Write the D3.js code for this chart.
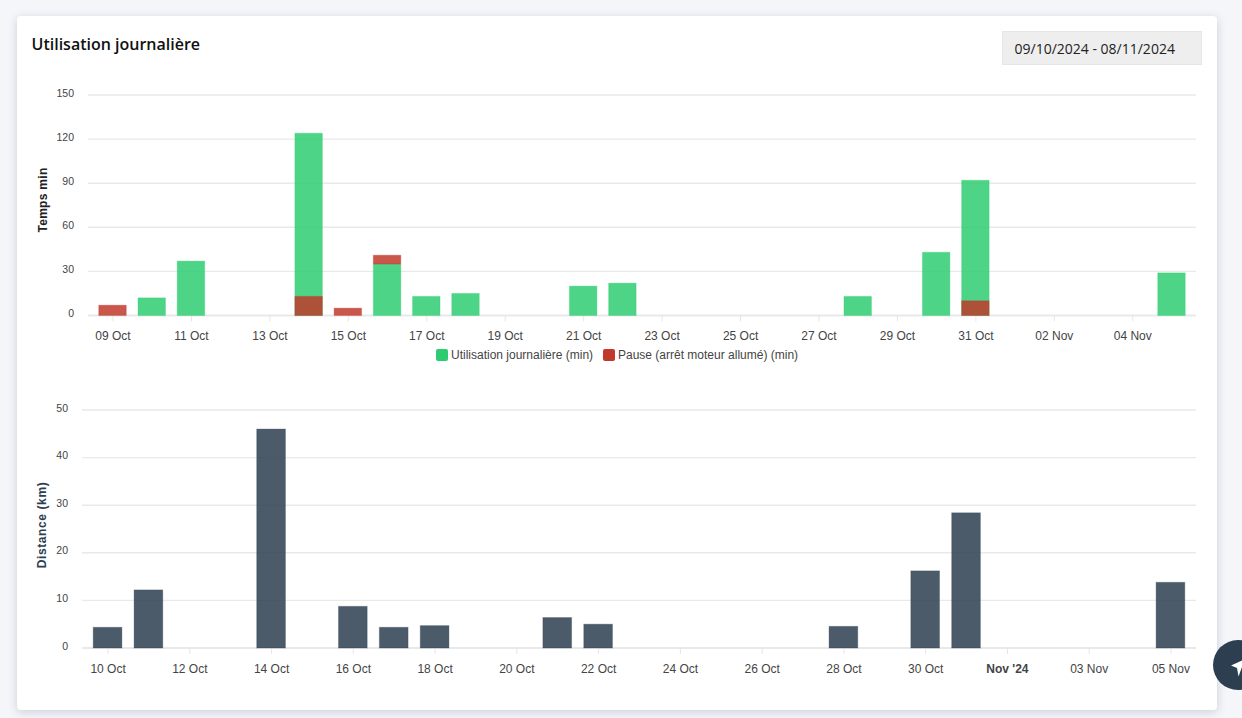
<!DOCTYPE html>
<html>
<head>
<meta charset="utf-8">
<script src="https://cdn.jsdelivr.net/npm/d3@7"></script>
<style>
  html, body { margin: 0; width: 1242px; height: 718px; overflow: hidden; background: #f4f6fa; }
  .card { position: absolute; left: 17px; top: 16px; width: 1200px; height: 694px; background: #fff; border-radius: 4px; box-shadow: 0 2px 10px rgba(60, 70, 90, 0.22); }
  .title { position: absolute; left: 31.5px; top: 33px; font: 600 16px "Open Sans", sans-serif; color: #111; line-height: 22px; }
  .range { position: absolute; left: 1002px; top: 31px; width: 198px; height: 32px; background: #eee; border: 1px solid #e6e6e6; font: 14px/34px "Open Sans", sans-serif; color: #222; text-indent: 11.5px; }
  svg { position: absolute; left: 0; top: 0; }
  text { font-family: "Liberation Sans", Arial, sans-serif; }
</style>
</head>
<body>
<div class="card"></div>
<div class="title">Utilisation journalière</div>
<div class="range">09/10/2024 - 08/11/2024</div>
<svg id="chart" width="1242" height="718"></svg>
<script>
// Top chart: minutes per day
const usageDays = ["2024-10-10", "2024-10-11", "2024-10-14", "2024-10-16", "2024-10-17", "2024-10-18", "2024-10-21", "2024-10-22", "2024-10-28", "2024-10-30", "2024-10-31", "2024-11-05"];
const usageValues = [12, 37, 124, 35, 13, 15, 20, 22, 13, 43, 92, 29];

const pauseDays = ["2024-10-09", "2024-10-14", "2024-10-15", "2024-10-16", "2024-10-31"];
const pauseFrom = [0, 0, 0, 35, 0];
const pauseTo = [7, 13, 5, 41, 10];

// Bottom chart: km per day
const distanceDays = ["2024-10-10", "2024-10-11", "2024-10-14", "2024-10-16", "2024-10-17", "2024-10-18", "2024-10-21", "2024-10-22", "2024-10-28", "2024-10-30", "2024-10-31", "2024-11-05"];
const distanceValues = [4.35, 12.2, 46, 8.75, 4.35, 4.7, 6.4, 5, 4.55, 16.2, 28.4, 13.8];

// Tick labels
const timeTicks = [0, 30, 60, 90, 120, 150];
const distanceTicks = [0, 10, 20, 30, 40, 50];
const timeDateTicks = ["2024-10-09", "2024-10-11", "2024-10-13", "2024-10-15", "2024-10-17", "2024-10-19", "2024-10-21", "2024-10-23", "2024-10-25", "2024-10-27", "2024-10-29", "2024-10-31", "2024-11-02", "2024-11-04"];
const distanceDateTicks = ["2024-10-10", "2024-10-12", "2024-10-14", "2024-10-16", "2024-10-18", "2024-10-20", "2024-10-22", "2024-10-24", "2024-10-26", "2024-10-28", "2024-10-30", "2024-11-01", "2024-11-03", "2024-11-05"];

const legendLabels = ["Utilisation journalière (min)", "Pause (arrêt moteur allumé) (min)"];

const GREEN = "#2ecc71";
const RED = "#c0392b";
const SLATE = "#2c3e50";

const svg = d3.select("#chart");
const day = s => new Date(s + "T00:00:00Z");
const fmt = d3.utcFormat("%d %b");
const tickLabel = d => (fmt(d) === "01 Nov" ? "Nov '24" : fmt(d));

function drawFrame(opts) {
    const x = d3.scaleUtc()
        .domain([new Date(opts.from), new Date(opts.to)])
        .range([opts.left, opts.right]);
    const y = d3.scaleLinear().domain(opts.yDomain).range([opts.bottom, opts.top]);

    // Grid first, bars go on top of it
    svg.append("g")
        .selectAll("line")
        .data(opts.yTicks)
        .join("line")
        .attr("x1", opts.left)
        .attr("x2", opts.right)
        .attr("y1", d => y(d))
        .attr("y2", d => y(d))
        .attr("stroke", "#e9e9e9")
        .attr("stroke-width", d => (d === 0 ? 2 : 1.4));

    const yAxis = svg.append("g")
        .attr("transform", `translate(${opts.left},0)`)
        .call(d3.axisLeft(y).tickValues(opts.yTicks).tickSize(0).tickPadding(opts.yPad));
    yAxis.select(".domain").remove();
    yAxis.selectAll("text")
        .attr("dy", "0.1em")
        .style("font-size", "10.5px")
        .style("fill", "#444");

    const xAxis = svg.append("g")
        .attr("transform", `translate(0,${opts.bottom})`)
        .call(d3.axisBottom(x).tickValues(opts.xTicks.map(day)).tickSize(6).tickPadding(10).tickFormat(tickLabel));
    xAxis.select(".domain").remove();
    xAxis.selectAll("line").attr("stroke", "#e6e6e6");
    xAxis.selectAll("text")
        .style("font-size", "12px")
        .style("fill", "#444")
        .style("font-weight", d => (fmt(d) === "01 Nov" ? "bold" : "normal"));

    svg.append("text")
        .attr("transform", `translate(${opts.titleX},${opts.titleY}) rotate(-90)`)
        .attr("text-anchor", "middle")
        .style("font-size", "12px")
        .style("font-weight", "bold")
        .style("letter-spacing", opts.titleSpacing)
        .style("fill", opts.titleColor)
        .text(opts.title);

    return { x, y };
}

function drawBars(scales, days, from, to, width, color) {
    svg.append("g")
        .selectAll("rect")
        .data(days)
        .join("rect")
        .attr("x", d => scales.x(day(d)) - width / 2)
        .attr("width", width)
        .attr("y", (d, i) => scales.y(to[i]))
        .attr("height", (d, i) => scales.y(from[i]) - scales.y(to[i]))
        .attr("fill", color)
        .attr("fill-opacity", 0.85)
        .attr("stroke", color)
        .attr("stroke-opacity", 0.3);
}

// 1. Temps
const top1 = drawFrame({
    from: "2024-10-08T09:00:00Z", to: "2024-11-05T15:00:00Z",
    left: 88, right: 1196, top: 95, bottom: 315.5,
    yDomain: [0, 150], yTicks: timeTicks, xTicks: timeDateTicks, yPad: 14,
    title: "Temps min", titleSpacing: "0.3px", titleX: 47, titleY: 200, titleColor: "#222"
});
drawBars(top1, usageDays, usageDays.map(() => 0), usageValues, 27.5, GREEN);
drawBars(top1, pauseDays, pauseFrom, pauseTo, 27.5, RED);

// Legend
const legend = svg.append("g").attr("transform", "translate(436,349)");
legend.selectAll("rect")
    .data(legendLabels)
    .join("rect")
    .attr("x", (d, i) => (i === 0 ? 0 : 167))
    .attr("width", 12)
    .attr("height", 12)
    .attr("rx", 2)
    .attr("fill", (d, i) => (i === 0 ? GREEN : RED));
legend.selectAll("text")
    .data(legendLabels)
    .join("text")
    .attr("x", (d, i) => (i === 0 ? 15 : 182))
    .attr("y", 10)
    .style("font-size", "12px")
    .style("fill", "#444")
    .text(d => d);

// 2. Distance
const top2 = drawFrame({
    from: "2024-10-09T09:00:00Z", to: "2024-11-05T15:00:00Z",
    left: 82, right: 1196, top: 410, bottom: 648,
    yDomain: [0, 50], yTicks: distanceTicks, xTicks: distanceDateTicks, yPad: 14,
    title: "Distance (km)", titleSpacing: "0.6px", titleX: 45.5, titleY: 525, titleColor: "#2c3e50"
});
drawBars(top2, distanceDays, distanceDays.map(() => 0), distanceValues, 28.7, SLATE);

// Floating button, cut by the window edge
const fab = svg.append("g").attr("transform", "translate(1238,665)");
fab.append("circle").attr("r", 25).attr("fill", SLATE);
fab.append("path").attr("d", "M-7,0.5 L7,-6 L0.5,11.5 L-1,3 Z").attr("fill", "#fff");
</script>
</body>
</html>
